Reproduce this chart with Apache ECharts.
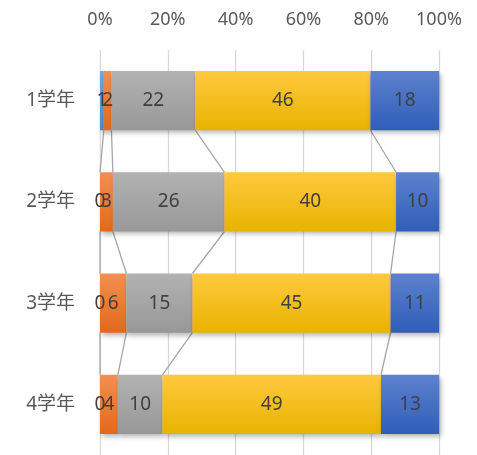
<!DOCTYPE html>
<html><head><meta charset="utf-8">
<script src="https://cdn.jsdelivr.net/npm/echarts@6/dist/echarts.min.js"></script>
<style>html,body{margin:0;padding:0;background:#fff}#c{width:477px;height:455px}</style>
</head><body><div id="c"></div>
<script>
var categories = ['1学年', '2学年', '3学年', '4学年'];
var s1 = [1, 0, 0, 0];
var s2 = [2, 3, 6, 4];
var s3 = [22, 26, 15, 10];
var s4 = [46, 40, 45, 49];
var s5 = [18, 10, 11, 13];
var tickLabels = ['0%', '20%', '40%', '60%', '80%', '100%'];

var raw = [s1, s2, s3, s4, s5];
var totals = categories.map(function (_, i) { return raw.reduce(function (a, s) { return a + s[i]; }, 0); });
var pct = raw.map(function (s) { return s.map(function (v, i) { return v / totals[i] * 100; }); });
var cum = categories.map(function (_, i) {
  var c = 0, out = [];
  for (var k = 0; k < raw.length; k++) { c += pct[k][i]; out.push(c); }
  return out;
});

var FONT = '"Noto Sans", "Noto Sans CJK JP", sans-serif';
function grad(top, bottom) {
  return new echarts.graphic.LinearGradient(0, 0, 0, 1, [{offset: 0, color: top}, {offset: 1, color: bottom}]);
}
var colors = [grad('#6FA8DC', '#4A89C8'), grad('#F28F52', '#E2691A'), grad('#B2B2B2', '#989898'), grad('#FFC93F', '#E9B300'), grad('#5D82CF', '#2F5DB8')];
var BAR = 0.585;

var series = raw.map(function (s, k) {
  return {
    type: 'bar', stack: 'a', barWidth: (BAR * 100) + '%', z: 3,
    data: pct[k],
    itemStyle: { color: colors[k], shadowBlur: 5, shadowOffsetX: 2, shadowOffsetY: 3, shadowColor: 'rgba(0,0,0,0.3)' },
    label: {
      show: true, position: 'inside', color: '#404040', fontSize: 19,
      fontFamily: FONT,
      formatter: function (p) { return String(raw[k][p.dataIndex]); }
    }
  };
});

series.push({
  type: 'custom', z: 1, silent: true,
  data: [[0], [1], [2]],
  renderItem: function (params, api) {
    var i = api.value(0);
    var h = api.size([0, 1])[1] * BAR / 2;
    var children = [];
    for (var k = 0; k < raw.length - 1; k++) {
      var a = api.coord([cum[i][k], i]);
      var b = api.coord([cum[i + 1][k], i + 1]);
      children.push({ type: 'line', shape: { x1: a[0], y1: a[1] + h, x2: b[0], y2: b[1] - h },
        style: { stroke: '#A6A6A6', lineWidth: 1.3 } });
    }
    return { type: 'group', children: children };
  }
});

var chart = echarts.init(document.getElementById('c'));
chart.setOption({
  animation: false,
  grid: { left: 100, right: 38, top: 50, height: 410 },
  xAxis: {
    type: 'value', position: 'top', min: 0, max: 100, interval: 20,
    axisLine: { show: false }, axisTick: { show: false },
    splitLine: { lineStyle: { color: '#D9D9D9', width: 1.3 } },
    axisLabel: { margin: 21, color: '#595959', fontSize: 18, fontFamily: FONT,
      formatter: function (v) { return tickLabels[Math.round(v / 20)]; } }
  },
  yAxis: {
    type: 'category', data: categories, inverse: true,
    axisLine: { show: false }, axisTick: { show: false },
    axisLabel: { margin: 25, color: '#595959', fontSize: 19, fontFamily: FONT }
  },
  series: series
});
</script></body></html>
